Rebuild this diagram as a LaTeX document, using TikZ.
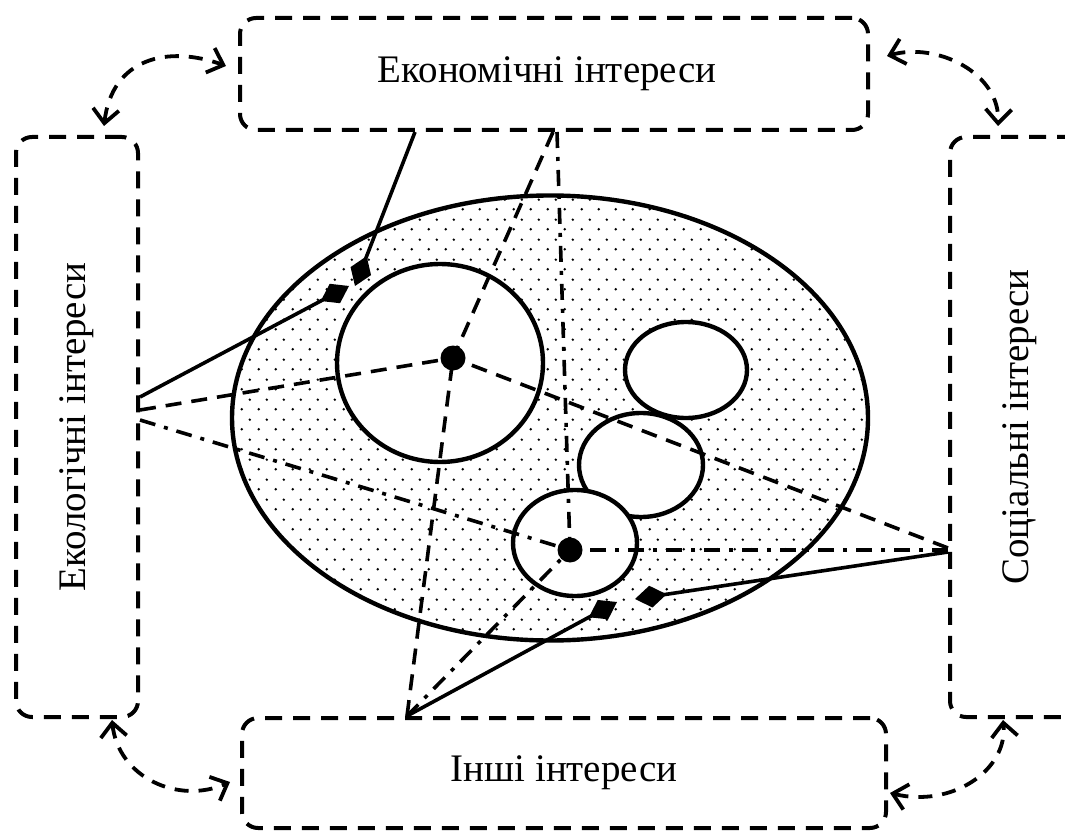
\documentclass[tikz,border=0pt]{standalone}
\usepackage{fontspec}
\setmainfont{Liberation Serif}
\usetikzlibrary{arrows.meta,calc,patterns.meta,shapes.geometric}
\tikzdeclarepattern{
  name=finedots,
  type=uncolored,
  bottom left={(0pt,0pt)},
  top right={(17pt,20pt)},
  tile size={(17pt,20pt)},
  code={
    \pgfpathcircle{\pgfqpoint{4pt}{5pt}}{1.4pt}
    \pgfpathcircle{\pgfqpoint{12.5pt}{15pt}}{1.4pt}
    \pgfusepath{fill}
  }
}
\tikzset{
  interest/.style={draw, rounded corners=16pt, line width=4pt, dash pattern=on 17pt off 11pt,
    inner sep=0pt, font=\fontsize{39}{46}\selectfont},
  part/.style={ellipse, draw, fill=white, line width=4.4pt, inner sep=0pt},
  hub/.style={circle, fill, minimum size=25pt, inner sep=0pt},
  link/.style={line width=3.6pt},
  dlink/.style={link, dash pattern=on 16pt off 10pt},
  ddlink/.style={link, dash pattern=on 16pt off 9pt on 4pt off 9pt},
  pin/.style={link, -{Diamond[length=32pt,width=22pt]}},
  swap/.style={line width=3.8pt, dash pattern=on 14pt off 10pt,
    {Straight Barb[length=14pt,width=26pt]}-{Straight Barb[length=14pt,width=26pt]}},
}
\begin{document}
\begin{tikzpicture}[x=1pt,y=-1pt]
  \useasboundingbox (0,0) rectangle (1065,834);
  \clip (0,0) rectangle (1065,834);
  % interest boxes
  \node[interest, minimum width=628pt, minimum height=112pt] (econ) at (554,74) {Економічні інтереси\hspace*{14pt}};
  \node[interest, minimum width=122pt, minimum height=580pt] (eco) at (77,427) {\rotatebox{90}{Екологічні інтереси}};
  \node[interest, minimum width=140pt, minimum height=580pt] (soc) at (1020,427) {\rotatebox{90}{Соціальні інтереси}};
  \node[interest, minimum width=644pt, minimum height=110pt] (other) at (564,773) {Інші інтереси};
  % common field and its parts
  \node[ellipse, draw, line width=4.4pt, pattern=finedots, minimum width=636pt, minimum height=445pt] (field) at (550,418) {};
  \node[part, minimum width=206pt, minimum height=198pt] (c1) at (440,363) {};
  \node[part, minimum width=122pt, minimum height=96pt] (c2) at (686,370) {};
  \node[part, minimum width=124pt, minimum height=104pt] (c3) at (641,465) {};
  \node[part, minimum width=124pt, minimum height=106pt] (c4) at (575,543) {};
  \coordinate (bigc) at (453,358);
  \coordinate (smallc) at (570,550);
  % end points on the boxes
  \coordinate (econA) at ([xshift=-139pt]econ.south);
  \coordinate (econB) at ([xshift=-1pt]econ.south);
  \coordinate (econC) at ([xshift=3pt]econ.south);
  \coordinate (ecoA) at ([yshift=30pt]eco.east);
  \coordinate (ecoB) at ([yshift=17pt]eco.east);
  \coordinate (ecoC) at ([yshift=7pt]eco.east);
  \coordinate (socA) at ([yshift=-125pt]soc.west);
  \coordinate (socB) at ([yshift=-121pt]soc.west);
  \coordinate (socC) at ([yshift=-123pt]soc.west);
  \coordinate (otherA) at ([xshift=-157pt]other.north);
  % diamond tips
  \coordinate (pinE) at (355,286);
  \coordinate (pinL) at (349,286);
  \coordinate (pinS) at (635,599);
  \coordinate (pinO) at (617,602);
  % links to the big centre
  \draw[dlink] (ecoB) -- (bigc);
  \draw[dlink] (econB) -- (bigc);
  \draw[dlink] (socB) -- (bigc);
  \draw[dlink] (otherA) -- (bigc);
  % links to the small centre
  \draw[ddlink] (ecoC) -- (smallc);
  \draw[ddlink] (econC) -- (smallc);
  \draw[ddlink] (socC) -- (smallc);
  \draw[ddlink] (otherA) -- (smallc);
  % pointers
  \draw[pin] (econA) -- (pinE);
  \draw[pin] (ecoA) -- (pinL);
  \draw[pin] (socA) -- (pinS);
  \draw[pin] (otherA) -- (pinO);
  \node[hub] (big) at (bigc) {};
  \node[hub] (small) at (smallc) {};
  % mutual links between the boxes
  \coordinate (tl1) at ([xshift=27pt,yshift=9pt]eco.north);
  \coordinate (tl2) at ([xshift=-12pt,yshift=8pt]econ.west);
  \coordinate (tr1) at ([xshift=17pt,yshift=18pt]econ.east);
  \coordinate (tr2) at ([xshift=-22pt,yshift=9pt]soc.north);
  \coordinate (bl1) at ([xshift=35pt,yshift=-1pt]eco.south);
  \coordinate (bl2) at ([xshift=-10pt,yshift=-9pt]other.west);
  \coordinate (br1) at ([xshift=2pt,yshift=-20pt]other.east);
  \coordinate (br2) at ([xshift=-17pt,yshift=-1pt]soc.south);
  \draw[swap] (tl1) .. controls +(8,-68) and +(-58,-21) .. (tl2);
  \draw[swap] (tr1) .. controls +(50,-14) and +(2,-53) .. (tr2);
  \draw[swap] (bl1) .. controls +(6,57) and +(-52,23) .. (bl2);
  \draw[swap] (br1) .. controls +(62,15) and +(5,50) .. (br2);
\end{tikzpicture}
\end{document}
